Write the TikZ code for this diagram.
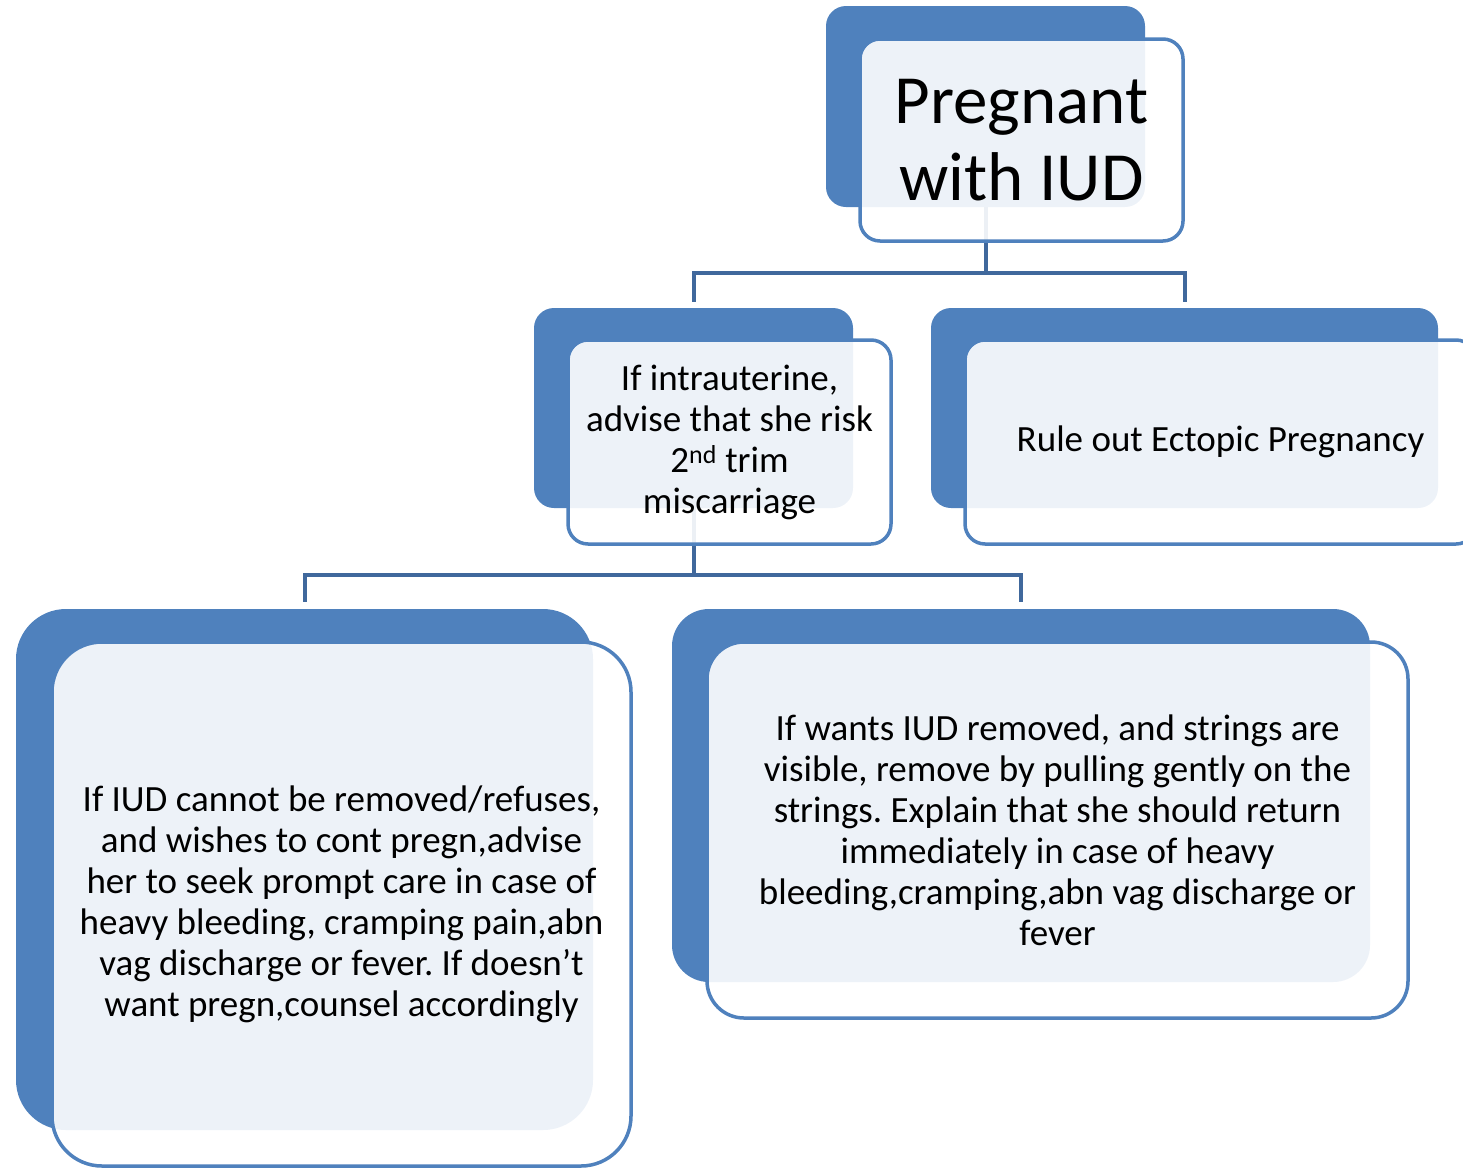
\documentclass[tikz,border=0pt]{standalone}
\usepackage{fontspec}
\setmainfont{Carlito}
\usetikzlibrary{backgrounds}
\definecolor{accent}{RGB}{79,129,189}
\definecolor{connc}{RGB}{64,104,156}
\newcommand{\bigtxt}{\fontsize{69}{77}\selectfont}
\newcommand{\midtxt}{\fontsize{37}{41}\selectfont}
\tikzset{
  backbox/.style={fill=accent, draw=none, rounded corners=#1, inner sep=0pt, outer sep=0pt},
  frontbox/.style={fill=white, fill opacity=0.9, text opacity=1, draw=accent, line width=3.5pt,
    rounded corners=#1, inner sep=0pt, outer sep=0pt, align=center, text=black, font=\midtxt},
  conn/.style={draw=connc, line width=4pt},
}
\frenchspacing
\begin{document}
\begin{tikzpicture}[x=1pt,y=-1pt]
\useasboundingbox (0,0) rectangle (1463,1170);
% back boxes
\node[backbox=20pt, minimum width=319pt, minimum height=201pt] (rb) at (985.5,106.5) {};
\node[backbox=20pt, minimum width=319pt, minimum height=200pt] (mlb) at (693.5,408) {};
\node[backbox=20pt, minimum width=507pt, minimum height=200pt] (mrb) at (1184.5,408) {};
\node[backbox=50pt, minimum width=577pt, minimum height=521pt] (blb) at (304.5,869.5) {};
\node[backbox=37pt, minimum width=698pt, minimum height=373pt] (brb) at (1021,795.5) {};
% connectors behind
\begin{scope}[on background layer]
\draw[conn] (rb.south) -- ++(0,66) coordinate (j1) -| ([yshift=6pt]mlb.north);
\draw[conn] (j1) -| ([yshift=6pt]mrb.north);
\draw[conn] (mlb.south) -- ++(0,67) coordinate (j2) -| ([yshift=7pt]blb.north);
\draw[conn] (j2) -| ([yshift=7pt]brb.north);
\end{scope}
% front boxes
\node[frontbox=20pt, minimum width=323pt, minimum height=202pt, font=\bigtxt] (rf) at (1021.5,140)
  {Pregnant\\with IUD};
\node[frontbox=20pt, minimum width=323pt, minimum height=204pt] (mlf) at (729.5,442)
  {If intrauterine,\\advise that she risk\\2\textsuperscript{nd} trim\\miscarriage};
\node[frontbox=20pt, minimum width=511pt, minimum height=204pt] (mrf) at (1220.5,442)
  {Rule out Ectopic Pregnancy};
\node[frontbox=50pt, minimum width=579pt, minimum height=524pt] (blf) at (341.5,904)
  {If IUD cannot be removed/refuses,\\and wishes to cont pregn,advise\\her to seek prompt care in case of\\heavy bleeding, cramping pain,abn\\vag discharge or fever. If doesn’t\\want pregn,counsel accordingly};
\node[frontbox=37pt, minimum width=701pt, minimum height=376pt] (brf) at (1057.5,830)
  {If wants IUD removed, and strings are\\visible, remove by pulling gently on the\\strings. Explain that she should return\\immediately in case of heavy\\bleeding,cramping,abn vag discharge or\\fever};
\end{tikzpicture}
\end{document}
